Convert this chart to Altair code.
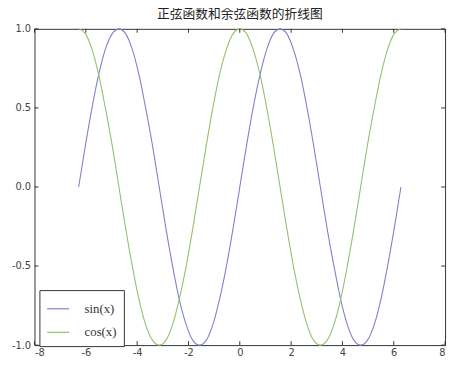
import altair as alt
import pandas as pd

x_vals = [-6.28, -6.02, -5.76, -5.50, -5.24, -4.97, -4.71, -4.45, -4.19, -3.93, -3.67, -3.40,
          -3.14, -2.88, -2.62, -2.36, -2.09, -1.83, -1.57, -1.31, -1.05, -0.79, -0.52, -0.26,
          0.00, 0.26, 0.52, 0.79, 1.05, 1.31, 1.57, 1.83, 2.09, 2.36, 2.62, 2.88,
          3.14, 3.40, 3.67, 3.93, 4.19, 4.45, 4.71, 4.97, 5.24, 5.50, 5.76, 6.02, 6.28]
sin_vals = [0.00, 0.26, 0.50, 0.71, 0.87, 0.97, 1.00, 0.97, 0.87, 0.71, 0.50, 0.26,
            0.00, -0.26, -0.50, -0.71, -0.87, -0.97, -1.00, -0.97, -0.87, -0.71, -0.50, -0.26,
            0.00, 0.26, 0.50, 0.71, 0.87, 0.97, 1.00, 0.97, 0.87, 0.71, 0.50, 0.26,
            0.00, -0.26, -0.50, -0.71, -0.87, -0.97, -1.00, -0.97, -0.87, -0.71, -0.50, -0.26, 0.00]
cos_vals = [1.00, 0.97, 0.87, 0.71, 0.50, 0.26, 0.00, -0.26, -0.50, -0.71, -0.87, -0.97,
            -1.00, -0.97, -0.87, -0.71, -0.50, -0.26, 0.00, 0.26, 0.50, 0.71, 0.87, 0.97,
            1.00, 0.97, 0.87, 0.71, 0.50, 0.26, 0.00, -0.26, -0.50, -0.71, -0.87, -0.97,
            -1.00, -0.97, -0.87, -0.71, -0.50, -0.26, 0.00, 0.26, 0.50, 0.71, 0.87, 0.97, 1.00]
series_names = ["sin(x)", "cos(x)"]
series_colors = ["#8080cc", "#92c06e"]
x_ticks = [-8, -6, -4, -2, 0, 2, 4, 6, 8]
y_ticks = [-1.0, -0.5, 0.0, 0.5, 1.0]
title_text = "正弦函数和余弦函数的折线图"

W, H = 418, 322

df = pd.DataFrame({
    "x": x_vals * 2,
    "y": sin_vals + cos_vals,
    "s": [series_names[0]] * len(x_vals) + [series_names[1]] * len(x_vals),
})
xs = alt.Scale(domain=[-8, 8], nice=False)
ys = alt.Scale(domain=[-1, 1], nice=False)

lines = alt.Chart(df).mark_line(strokeWidth=1.1, interpolate="monotone").encode(
    x=alt.X("x:Q", scale=xs, axis=alt.Axis(values=x_ticks, title=None, ticks=False, domain=False,
                                           grid=False, labelPadding=3,
                                           labelExpr="replace(format(datum.value, 'd'), '\u2212', '-')")),
    y=alt.Y("y:Q", scale=ys, axis=alt.Axis(values=y_ticks, title=None, ticks=False, domain=False,
                                           grid=False, labelPadding=4,
                                           labelExpr="replace(format(datum.value, '.1f'), '\u2212', '-')")),
    color=alt.Color("s:N", sort=series_names,
                    scale=alt.Scale(domain=series_names, range=series_colors),
                    legend=alt.Legend(title=None, orient="none", legendX=5, legendY=266,
                                      symbolType="stroke", symbolSize=500, symbolStrokeWidth=1.2,
                                      labelFont="Liberation Serif", labelFontSize=13,
                                      labelColor="#333", rowPadding=5, labelOffset=15,
                                      padding=7, strokeColor="#333", fillColor="white",
                                      cornerRadius=0)),
)

xt = pd.DataFrame({"t": x_ticks})
yt = pd.DataFrame({"t": y_ticks})
bot = alt.Chart(xt).mark_rule(color="#333").encode(x=alt.X("t:Q", scale=xs), y=alt.value(H), y2=alt.value(H - 4))
top = alt.Chart(xt).mark_rule(color="#333").encode(x=alt.X("t:Q", scale=xs), y=alt.value(0), y2=alt.value(4))
lft = alt.Chart(yt).mark_rule(color="#333").encode(y=alt.Y("t:Q", scale=ys), x=alt.value(0), x2=alt.value(4))
rgt = alt.Chart(yt).mark_rule(color="#333").encode(y=alt.Y("t:Q", scale=ys), x=alt.value(W), x2=alt.value(W - 4))

chart = alt.layer(lines, bot, top, lft, rgt).properties(
    width=W, height=H,
    title=alt.TitleParams(title_text, font="Noto Sans CJK SC", fontSize=13, fontWeight="normal",
                          color="#222", offset=3, anchor="middle"),
    autosize=alt.AutoSizeParams(type="none"),
    padding={"left": 27, "top": 18, "right": 4, "bottom": 16},
).configure_view(stroke="#333", strokeWidth=1).configure_axis(
    labelFont="DejaVu Sans", labelFontSize=10, labelColor="#444"
)

chart.save("out.html", embed_options={"renderer": "svg", "actions": False})
